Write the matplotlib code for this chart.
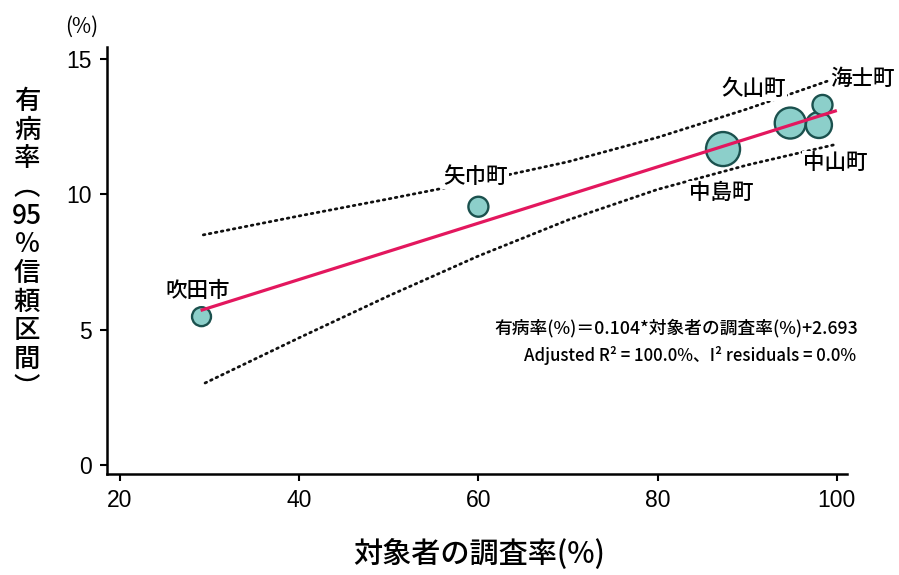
import matplotlib
matplotlib.use('Agg')
import matplotlib.pyplot as plt
import numpy as np

# municipalities: survey coverage (%) vs prevalence (%)
towns = ['吹田市', '矢巾町', '中島町', '久山町', '中山町', '海士町']
survey_rate = [29.1, 60.0, 87.3, 94.8, 98.0, 98.4]
prevalence = [5.48, 9.54, 11.67, 12.63, 12.56, 13.30]
bubble_weight = [0.9, 1.0, 2.9, 2.4, 1.7, 1.0]

# meta-regression: prevalence = 0.104 * survey_rate + 2.693
slope = 0.104
intercept = 2.693
fit_x = [29.0, 100.0]

# 95% confidence band
ci_upper_x = [29.3, 40, 50, 60, 70, 80, 90, 100]
ci_upper_y = [8.50, 9.20, 9.83, 10.48, 11.20, 12.10, 13.15, 14.30]
ci_lower_x = [29.5, 40, 50, 60, 70, 80, 90, 99.6]
ci_lower_y = [3.03, 4.70, 6.25, 7.72, 9.05, 10.18, 11.08, 11.82]

label_offset = {
    '吹田市': (-2.7, 18.5),
    '矢巾町': (-2.0, 21.6),
    '中島町': (-1.5, -31.5),
    '久山町': (-26.5, 24.5),
    '中山町': (11.5, -27.5),
    '海士町': (29.0, 18.7),
}

jp = ['Noto Sans CJK JP', 'DejaVu Sans']
num_font = ['Liberation Sans', 'DejaVu Sans']

fig = plt.figure(figsize=(8.99, 5.75), dpi=100)
ax = fig.add_axes([0.1190, 0.1757, 0.8232, 0.7426])

fit_y = [slope * x + intercept for x in fit_x]
for bx, by in [(ci_upper_x, ci_upper_y), (ci_lower_x, ci_lower_y)]:
    ax.plot(bx, by, color='#111111', lw=2.0, ls=(0, (0.6, 1.6)),
            dash_capstyle='round', zorder=2)

sizes = [w * 207 for w in bubble_weight]
ax.scatter(survey_rate, prevalence, s=sizes, c='#8ccfca', edgecolors='#1b514e',
           linewidths=1.7, zorder=4)
ax.plot(fit_x, fit_y, color='#e3175e', lw=2.3, solid_capstyle='butt', zorder=5)

for name, x, y in zip(towns, survey_rate, prevalence):
    ax.annotate(name, (x, y), xytext=label_offset[name], textcoords='offset points',
                ha='center', va='center', fontsize=15.5, family=jp,
                weight='medium', zorder=3,
                bbox=dict(boxstyle='square,pad=0.05', fc='white', ec='none'))

ax.set_xlim(18.55, 101.14)
ax.set_ylim(-0.33, 15.44)
ax.set_xticks([20, 40, 60, 80, 100])
ax.set_yticks([0, 5, 10, 15])

for side in ['top', 'right']:
    ax.spines[side].set_visible(False)
for side in ['left', 'bottom']:
    ax.spines[side].set_linewidth(1.8)
ax.tick_params(axis='both', width=1.5, length=5, labelsize=16.5, pad=6)
for lab in ax.get_xticklabels() + ax.get_yticklabels():
    lab.set_family(num_font)

fig.text(0.091, 0.954, '(%)', ha='center', va='center', fontsize=15, family=jp)
fig.text(0.030, 0.574, '有\n病\n率\n︵\n95\n%\n信\n頼\n区\n間\n︶',
         ha='center', va='center', fontsize=19, family=jp, weight='medium',
         linespacing=1.08)
fig.text(0.533, 0.035, '対象者の調査率(%)', ha='center', va='center',
         fontsize=21, family=jp, weight='medium')

fig.text(0.954, 0.4296, '有病率(%)＝0.104*対象者の調査率(%)+2.693', ha='right',
         va='center', fontsize=12.75, family=jp, weight='medium')
fig.text(0.952, 0.3826, 'Adjusted R² = 100.0%、I² residuals = 0.0%', ha='right',
         va='center', fontsize=12.1, family=jp, weight='medium')

fig.savefig('out.png', dpi=100)
